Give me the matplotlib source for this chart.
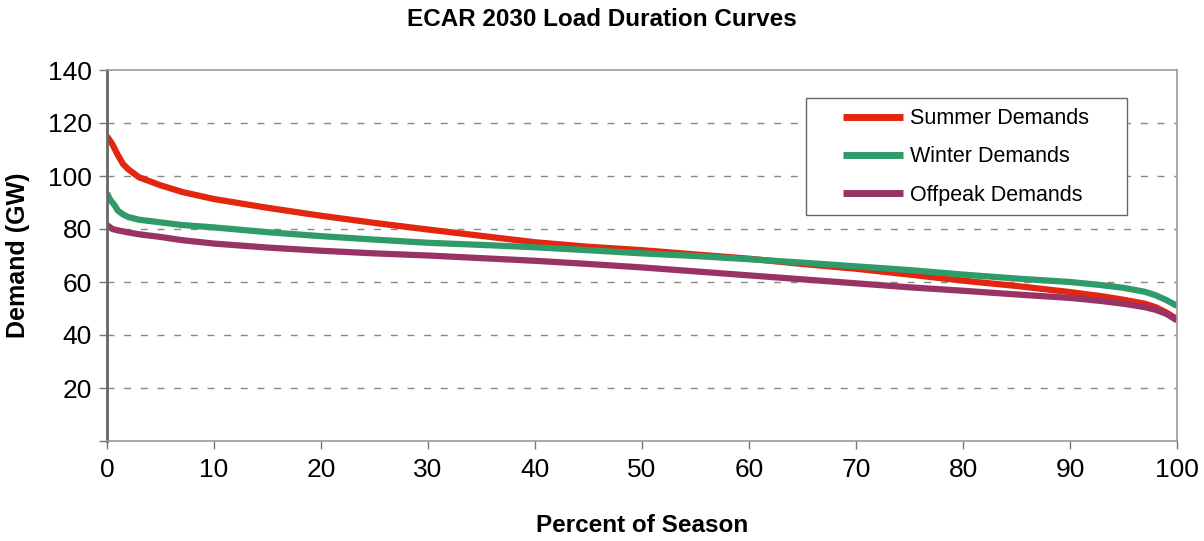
import matplotlib.pyplot as plt
import numpy as np
from matplotlib.patches import Rectangle

plt.rcParams['font.family'] = ['Liberation Sans', 'DejaVu Sans']

# percent of season
summer_x = [0, 0.5, 1, 1.5, 2, 3, 5, 7, 10, 15, 20, 25, 30, 35, 40, 45, 50, 55, 60, 65, 70, 75, 80, 85, 90, 93, 95, 97, 98, 99, 100]
summer_y = [115, 112, 108, 104.5, 102.5, 99.5, 96.5, 94, 91.3, 88, 85, 82.3, 79.8, 77.4, 75, 73.3, 72, 70.4, 68.8, 66.8, 65, 62.8, 60.5, 58.5, 56.2, 54.6, 53.3, 51.8, 50.5, 48.5, 46]

winter_x = [0, 0.3, 0.7, 1, 1.5, 2, 3, 5, 7, 10, 15, 20, 25, 30, 35, 40, 45, 50, 55, 60, 65, 70, 75, 80, 85, 90, 93, 95, 97, 98, 99, 100]
winter_y = [93.5, 91, 89, 87, 85.5, 84.5, 83.5, 82.5, 81.5, 80.6, 78.8, 77.3, 76, 74.8, 74, 73.1, 72, 70.8, 69.8, 68.6, 67.3, 65.9, 64.5, 62.8, 61.3, 60, 58.8, 57.8, 56.3, 55, 53.2, 51]

offpeak_x = [0, 0.5, 1, 2, 3, 5, 7, 10, 15, 20, 25, 30, 35, 40, 45, 50, 55, 60, 65, 70, 75, 80, 85, 90, 93, 95, 97, 98, 99, 100]
offpeak_y = [81.5, 80, 79.5, 78.7, 78, 77, 75.8, 74.5, 73, 71.8, 70.8, 70, 69, 68, 66.8, 65.5, 64, 62.5, 61, 59.5, 58, 56.7, 55.3, 54, 52.8, 51.8, 50.5, 49.5, 48, 45.5]

series = [
    ('Summer Demands', summer_x, summer_y, '#E3260F'),
    ('Winter Demands', winter_x, winter_y, '#2F9B68'),
    ('Offpeak Demands', offpeak_x, offpeak_y, '#993366'),
]

W, H = 1204, 541
fig = plt.figure(figsize=(W / 100, H / 100), dpi=100)
ax = fig.add_axes([107 / W, 1 - 441 / H, (1177 - 107) / W, (441 - 70) / H])

for name, xs, ys, c in series:
    ax.plot(xs, ys, color=c, lw=4.5, label=name, solid_capstyle='butt')

ax.set_xlim(0, 100)
ax.set_ylim(0, 140)
ax.set_xticks(np.arange(0, 101, 10))
ax.set_yticks(np.arange(0, 141, 20))
ax.set_yticklabels([''] + [str(v) for v in range(20, 141, 20)])
for v in range(20, 140, 20):
    ax.axhline(v, color='#888888', lw=1, ls=(0, (5, 7)), zorder=0)

for s in ax.spines.values():
    s.set_color('#999999')
    s.set_linewidth(1.2)
ax.spines['left'].set_color('#666666')
ax.spines['left'].set_linewidth(2)
ax.tick_params(axis='both', labelsize=19, color='#777777', length=6, width=1)
ax.tick_params(axis='x', pad=6)
ax.tick_params(axis='y', pad=5)

ax.set_xlabel('Percent of Season', fontsize=17.5, fontweight='bold')
ax.xaxis.set_label_coords(0.5, -(525 - 441) / 371, transform=ax.transAxes)
ax.xaxis.label.set_va('center')
ax.set_ylabel('Demand (GW)', fontsize=18, fontweight='bold')
ax.yaxis.set_label_coords(-(107 - 18) / 1070, 0.5, transform=ax.transAxes)
ax.yaxis.label.set_va('center')
fig.text(0.5, 1 - 20 / H, 'ECAR 2030 Load Duration Curves', ha='center', va='center',
         fontsize=17.5, fontweight='bold')

# legend box drawn separately so its padding can match
ax.add_patch(Rectangle((806 / W, 1 - 215 / H), (1127 - 806) / W, (215 - 98) / H,
                       transform=fig.transFigure, facecolor='white',
                       edgecolor='#666666', lw=1, zorder=4, clip_on=False))
leg = ax.legend(loc='center left', bbox_to_anchor=(843 / W, 1 - 157 / H), bbox_transform=fig.transFigure,
                fontsize=15.5, frameon=False, handlelength=2.8,
                handletextpad=0.33, borderpad=0, labelspacing=0.81, borderaxespad=0)
leg.set_zorder(5)
for h in leg.get_lines():
    h.set_linewidth(5)

fig.savefig('out.png', dpi=100)
